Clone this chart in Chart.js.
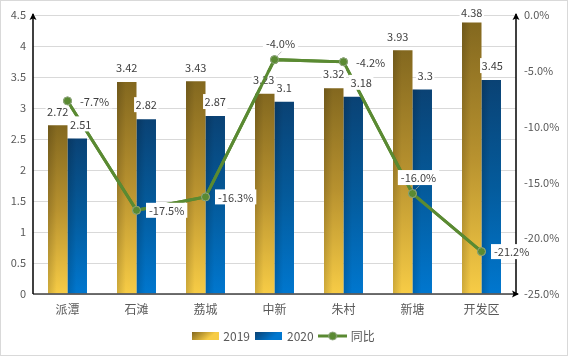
<!DOCTYPE html>
<html>
<head>
<meta charset="utf-8">
<script src="https://cdn.jsdelivr.net/npm/chart.js@4/dist/chart.umd.min.js"></script>
<style>
html,body{margin:0;padding:0;background:#fff;}
#wrap{width:568px;height:356px;position:relative;}
</style>
</head>
<body>
<div id="wrap"><canvas id="c" width="568" height="356"></canvas></div>
<script>
const categories = ['派潭','石滩','荔城','中新','朱村','新塘','开发区'];
const values2019 = [2.72, 3.42, 3.43, 3.23, 3.32, 3.93, 4.38];
const values2020 = [2.51, 2.82, 2.87, 3.10, 3.18, 3.30, 3.45];
const yoyChange = [-7.7, -17.5, -16.3, -4.0, -4.2, -16.0, -21.2];
const seriesNames = ['2019', '2020', '同比'];
const leftTicks = [0, 0.5, 1, 1.5, 2, 2.5, 3, 3.5, 4, 4.5];
const rightTicks = [0, -5, -10, -15, -20, -25];

// label placement tweaks (layout only)
const nudge2019 = [0, 0, 0, -1, 0, -5, 0];
const nudge2020 = [3.5, 0, 0, 0, 8, 3, 1];
const yoyLabelSide = ['right','right','right','above','right','above','right'];

const FONT = '"Noto Sans CJK SC", "Noto Sans", sans-serif';
const GOLD = ['#83681f', '#b8922f', '#f7cc46'];
const BLUE = ['#0a4274', '#045b9c', '#0077cf'];
const GREEN = '#5a8a32';

function barGradient(stops) {
  return function(ctx) {
    const chart = ctx.chart;
    if (!chart.chartArea || ctx.type !== 'data') return stops[1];
    const ys = chart.scales.y;
    const top = ys.getPixelForValue(ctx.raw);
    const bottom = ys.getPixelForValue(0);
    if (!isFinite(top) || !isFinite(bottom) || top === bottom) return stops[1];
    const g = chart.ctx.createLinearGradient(0, top, 0, bottom);
    g.addColorStop(0, stops[0]);
    g.addColorStop(0.5, stops[1]);
    g.addColorStop(1, stops[2]);
    return g;
  };
}

function makeRectIcon(stops) {
  const cv = document.createElement('canvas');
  cv.width = 27; cv.height = 8;
  const c = cv.getContext('2d');
  const g = c.createLinearGradient(0, 0, 10, 12);
  g.addColorStop(0, stops[0]);
  g.addColorStop(1, stops[2]);
  c.fillStyle = g;
  c.fillRect(0, 0, 27, 8);
  return cv;
}
function makeLineIcon() {
  const cv = document.createElement('canvas');
  cv.width = 29; cv.height = 10;
  const c = cv.getContext('2d');
  c.strokeStyle = GREEN; c.lineWidth = 3;
  c.beginPath(); c.moveTo(0, 5); c.lineTo(29, 5); c.stroke();
  c.fillStyle = GREEN; c.strokeStyle = '#8fa57e'; c.lineWidth = 1;
  c.beginPath(); c.arc(14.5, 5, 4, 0, Math.PI * 2); c.fill(); c.stroke();
  return cv;
}
const legendIcons = [makeRectIcon(GOLD), makeRectIcon(BLUE), makeLineIcon()];

function arrowUp(c, x, y) {
  c.beginPath();
  c.moveTo(x, y);
  c.lineTo(x - 3.5, y + 7);
  c.lineTo(x, y + 5.5);
  c.lineTo(x + 3.5, y + 7);
  c.closePath();
  c.fill();
}
function arrowRight(c, x, y) {
  c.beginPath();
  c.moveTo(x, y);
  c.lineTo(x - 7, y - 3.5);
  c.lineTo(x - 5.5, y);
  c.lineTo(x - 7, y + 3.5);
  c.closePath();
  c.fill();
}

function labelBox(c, text, cx, cy, pad) {
  c.font = '11px ' + FONT;
  const w = c.measureText(text).width;
  c.fillStyle = '#ffffff';
  c.fillRect(cx - w / 2 - pad, cy - 7.5, w + 2 * pad, 15);
  c.fillStyle = '#404040';
  c.textAlign = 'center';
  c.textBaseline = 'middle';
  c.fillText(text, cx, cy + 0.5);
}

function drawBarLabels(chart, di, nudges) {
  const c = chart.ctx;
  const ds = chart.data.datasets[di];
  chart.getDatasetMeta(di).data.forEach((el, i) => {
    const cy = Math.max(12, el.y - 14.5);
    labelBox(c, String(ds.data[i]), el.x + nudges[i], cy, 1.5);
  });
}

const decorPlugin = {
  id: 'decor',
  afterDatasetsDraw(chart) {
    const c = chart.ctx;
    const a = chart.chartArea;
    c.save();
    // side shading on bars
    [0, 1].forEach(di => {
      chart.getDatasetMeta(di).data.forEach(el => {
        const left = el.x - el.width / 2;
        const g = c.createLinearGradient(left, 0, left + el.width, 0);
        g.addColorStop(0, 'rgba(0,0,0,0.16)');
        g.addColorStop(0.45, 'rgba(0,0,0,0)');
        g.addColorStop(1, 'rgba(0,0,0,0)');
        c.fillStyle = g;
        c.fillRect(left, el.y, el.width, el.base - el.y);
      });
    });
    // 2019 labels sit beneath the line
    drawBarLabels(chart, 0, nudge2019);
    // redraw line on top
    chart.getDatasetMeta(2).controller.draw();
    // axes
    c.lineWidth = 1.5;
    c.strokeStyle = '#404040';
    c.fillStyle = '#000';
    c.beginPath(); c.moveTo(a.left, a.bottom); c.lineTo(a.right + 2, a.bottom); c.stroke();
    arrowRight(c, a.right + 3, a.bottom);
    c.strokeStyle = '#000';
    c.beginPath(); c.moveTo(a.left, a.bottom); c.lineTo(a.left, a.top - 1); c.stroke();
    arrowUp(c, a.left, a.top - 2);
    c.beginPath(); c.moveTo(a.right, a.bottom); c.lineTo(a.right, a.top - 1); c.stroke();
    arrowUp(c, a.right, a.top - 2);
    c.restore();
  },
  afterDraw(chart) {
    const c = chart.ctx;
    c.save();
    drawBarLabels(chart, 1, nudge2020);
    // line labels
    const lds = chart.data.datasets[2];
    chart.getDatasetMeta(2).data.forEach((el, i) => {
      const txt = lds.data[i].toFixed(1) + '%';
      c.font = '11px ' + FONT;
      const w = c.measureText(txt).width;
      if (yoyLabelSide[i] === 'above') {
        c.strokeStyle = '#a6a6a6'; c.lineWidth = 0.75;
        c.beginPath(); c.moveTo(el.x + 3, el.y - 4); c.lineTo(el.x + 7, el.y - 8); c.stroke();
        labelBox(c, txt, el.x + 6, el.y - 16, 3);
      } else {
        labelBox(c, txt, el.x + 12.5 + w / 2, el.y, 3);
      }
    });
    // outer frame
    c.strokeStyle = '#d9d9d9'; c.lineWidth = 1;
    c.strokeRect(0.5, 0.5, chart.width - 1, chart.height - 1);
    c.restore();
  }
};

new Chart(document.getElementById('c'), {
  type: 'bar',
  data: {
    labels: categories,
    datasets: [
      { label: seriesNames[0], data: values2019, yAxisID: 'y', order: 1,
        backgroundColor: barGradient(GOLD), categoryPercentage: 0.565, barPercentage: 1 },
      { label: seriesNames[1], data: values2020, yAxisID: 'y', order: 1,
        backgroundColor: barGradient(BLUE), categoryPercentage: 0.565, barPercentage: 1 },
      { type: 'line', label: seriesNames[2], data: yoyChange, yAxisID: 'y1', order: 0,
        borderColor: GREEN, borderWidth: 3, pointRadius: 4, pointBackgroundColor: GREEN,
        pointBorderColor: '#8fa57e', pointBorderWidth: 1, tension: 0, fill: false }
    ]
  },
  options: {
    responsive: false,
    animation: false,
    layout: { padding: { top: 15, left: 0, right: 0, bottom: 4 } },
    plugins: {
      tooltip: { enabled: false },
      legend: {
        position: 'bottom',
        labels: {
          usePointStyle: true,
          pointStyleWidth: 24,
          padding: 7,
          color: '#595959',
          font: { size: 12, family: FONT },
          generateLabels: (chart) => chart.data.datasets.map((ds, i) => ({
            text: ds.label, pointStyle: legendIcons[i], datasetIndex: i,
            fillStyle: 'rgba(0,0,0,0)', strokeStyle: 'rgba(0,0,0,0)', lineWidth: 0,
            hidden: false, fontColor: '#595959'
          }))
        }
      }
    },
    scales: {
      x: {
        grid: { display: false, drawTicks: false },
        border: { display: false },
        ticks: { color: '#595959', font: { size: 12, family: FONT }, padding: 8 },
        afterFit(s) { s.height = 29; }
      },
      y: {
        position: 'left', min: 0, max: 4.5,
        afterBuildTicks(s) { s.ticks = leftTicks.map(v => ({ value: v })); },
        ticks: { color: '#595959', font: { size: 11, family: FONT }, padding: 7,
          callback: v => String(v) },
        grid: { color: '#d9d9d9', drawTicks: false, lineWidth: 1 },
        border: { display: false },
        afterFit(s) { s.width = 33; }
      },
      y1: {
        position: 'right', min: -25, max: 0,
        afterBuildTicks(s) { s.ticks = rightTicks.map(v => ({ value: v })); },
        ticks: { color: '#595959', font: { size: 11, family: FONT }, padding: 8,
          callback: v => Number(v).toFixed(1) + '%' },
        grid: { display: false, drawTicks: false },
        border: { display: false },
        afterFit(s) { s.width = 52; }
      }
    }
  },
  plugins: [decorPlugin]
});
</script>
</body>
</html>
